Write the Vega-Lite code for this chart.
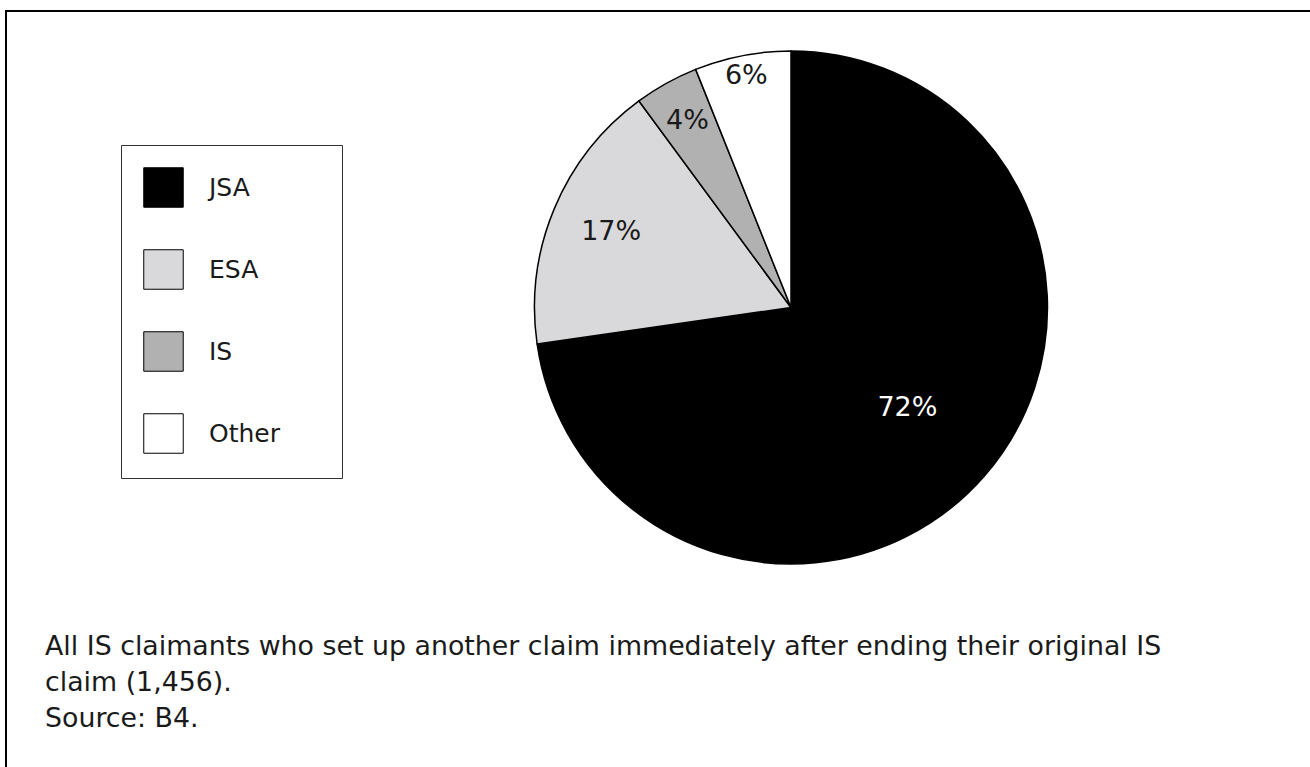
{
  "$schema": "https://vega.github.io/schema/vega-lite/v6.json",
  "width": 1310,
  "height": 767,
  "autosize": {"type": "fit", "contains": "padding"},
  "padding": {"left": 6, "top": 11, "right": -4, "bottom": -4},
  "background": "white",
  "view": {"stroke": "black", "strokeWidth": 2, "fill": "white"},
  "config": {
    "view": {"stroke": "black", "strokeWidth": 2},
    "font": "DejaVu Sans"
  },
  "title": {
    "text": [
      "All IS claimants who set up another claim immediately after ending their original IS",
      "claim (1,456).",
      "Source: B4."
    ],
    "orient": "bottom",
    "anchor": "start",
    "frame": "group",
    "baseline": "top",
    "offset": -137,
    "dx": 39,
    "font": "DejaVu Sans",
    "fontSize": 26.8,
    "fontWeight": "normal",
    "lineHeight": 36,
    "color": "#1a1a1a"
  },
  "data": {
    "values": [
      {"category": "JSA", "percent": 72, "label": "72%", "rank": 1},
      {"category": "ESA", "percent": 17, "label": "17%", "rank": 2},
      {"category": "IS", "percent": 4, "label": "4%", "rank": 3},
      {"category": "Other", "percent": 6, "label": "6%", "rank": 4}
    ]
  },
  "encoding": {
    "theta": {"field": "percent", "type": "quantitative", "stack": true},
    "order": {"field": "rank", "type": "quantitative"}
  },
  "layer": [
    {
      "mark": {"type": "arc", "radius": 256.5, "x": 785, "y": 296.5, "stroke": "black", "strokeWidth": 1.5},
      "encoding": {
        "color": {
          "field": "category",
          "type": "nominal",
          "sort": ["JSA", "ESA", "IS", "Other"],
          "scale": {"domain": ["JSA", "ESA", "IS", "Other"], "range": ["#000000", "#d9d9db", "#b1b1b1", "#ffffff"]},
          "legend": {
            "title": "\u00a0",
            "titleOrient": "right",
            "titlePadding": 40,
            "titleFontSize": 25,
            "orient": "none",
            "legendX": 115,
            "legendY": 134,
            "symbolType": "square",
            "symbolSize": 1560,
            "symbolStrokeColor": "black",
            "symbolStrokeWidth": 1,
            "symbolOpacity": 1,
            "labelFont": "DejaVu Sans",
            "labelFontSize": 25,
            "labelColor": "#1a1a1a",
            "labelOffset": 25,
            "rowPadding": 37,
            "padding": 22,
            "strokeColor": "#333333"
          }
        }
      }
    },
    {
      "mark": {
        "type": "text",
        "x": 785,
        "y": 296.5,
        "radius": {"expr": "datum.category == 'JSA' ? 154 : datum.category == 'ESA' ? 195 : datum.category == 'IS' ? 213 : 236"},
        "font": "DejaVu Sans",
        "fontSize": 27,
        "align": "center",
        "baseline": "middle"
      },
      "encoding": {
        "text": {"field": "label", "type": "nominal"},
        "detail": {"field": "category", "type": "nominal"},
        "color": {"condition": {"test": "datum.category == 'JSA'", "value": "white"}, "value": "#1a1a1a"}
      }
    }
  ]
}
